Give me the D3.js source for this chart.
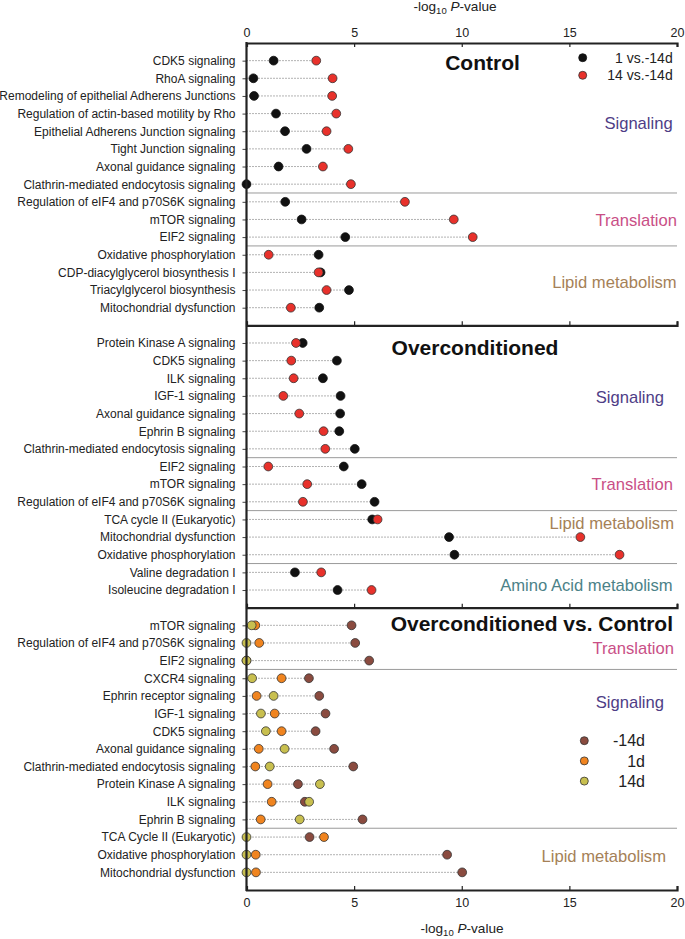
<html>

<head>
  <script src="https://d3js.org/d3.v7.min.js"></script>
  <style>
    body {
      margin: 0;
      background: white;
    }

    svg text {
      font-family: "Liberation Sans", Arial, sans-serif;
    }

    .rowAxis text {
      font-size: 12px;
      fill: #222;
    }

    .xAxis text {
      font-size: 12.5px;
      fill: #222;
    }

    .pTitle {
      font-weight: bold;
      font-size: 21px;
      fill: #111;
    }

    .catLabel {
      font-size: 16.6px;
    }
  </style>
</head>

<body>
  <svg id="vis" width="685" height="939"></svg>
  <script>
    const xTicks = [0, 5, 10, 15, 20];

    // Control
    const controlPathways = ["CDK5 signaling", "RhoA signaling", "Remodeling of epithelial Adherens Junctions",
      "Regulation of actin-based motility by Rho", "Epithelial Adherens Junction signaling", "Tight Junction signaling",
      "Axonal guidance signaling", "Clathrin-mediated endocytosis signaling", "Regulation of eIF4 and p70S6K signaling",
      "mTOR signaling", "EIF2 signaling", "Oxidative phosphorylation", "CDP-diacylglycerol biosynthesis I",
      "Triacylglycerol biosynthesis", "Mitochondrial dysfunction"];
    const controlDay1 = [1.26, 0.32, 0.35, 1.37, 1.79, 2.79, 1.49, 0, 1.8, 2.56, 4.59, 3.35, 3.44, 4.76, 3.38];
    const controlDay14 = [3.24, 4.0, 3.98, 4.17, 3.72, 4.73, 3.55, 4.85, 7.36, 9.63, 10.51, 1.03, 3.35, 3.72, 2.06];
    const controlGroups = ["Signaling", "Translation", "Lipid metabolism"];
    const controlBreaks = [8, 11];

    // Overconditioned
    const overPathways = ["Protein Kinase A signaling", "CDK5 signaling", "ILK signaling", "IGF-1 signaling",
      "Axonal guidance signaling", "Ephrin B signaling", "Clathrin-mediated endocytosis signaling", "EIF2 signaling",
      "mTOR signaling", "Regulation of eIF4 and p70S6K signaling", "TCA cycle II (Eukaryotic)",
      "Mitochondrial dysfunction", "Oxidative phosphorylation", "Valine degradation I", "Isoleucine degradation I"];
    const overDay1 = [2.61, 4.2, 3.55, 4.37, 4.35, 4.31, 5.03, 4.52, 5.35, 5.95, 5.84, 9.41, 9.66, 2.25, 4.23];
    const overDay14 = [2.3, 2.08, 2.19, 1.71, 2.45, 3.58, 3.66, 1.01, 2.82, 2.62, 6.09, 15.51, 17.33, 3.47, 5.81];
    const overGroups = ["Signaling", "Translation", "Lipid metabolism", "Amino Acid metabolism"];
    const overBreaks = [7, 10, 13];

    // Overconditioned vs. Control
    const ocPathways = ["mTOR signaling", "Regulation of eIF4 and p70S6K signaling", "EIF2 signaling",
      "CXCR4 signaling", "Ephrin receptor signaling", "IGF-1 signaling", "CDK5 signaling", "Axonal guidance signaling",
      "Clathrin-mediated endocytosis signaling", "Protein Kinase A signaling", "ILK signaling", "Ephrin B signaling",
      "TCA Cycle II (Eukaryotic)", "Oxidative phosphorylation", "Mitochondrial dysfunction"];
    const ocPre = [4.88, 5.05, 5.7, 2.9, 3.38, 3.67, 3.21, 4.07, 4.96, 2.39, 2.71, 5.39, 2.93, 9.32, 10.02];
    const ocDay1 = [0.41, 0.59, 0, 1.63, 0.47, 1.31, 1.63, 0.57, 0.41, 0.98, 1.17, 0.66, 3.6, 0.43, 0.44];
    const ocDay14 = [0.24, 0, 0, 0.26, 1.26, 0.67, 0.9, 1.77, 1.08, 3.41, 2.91, 2.47, 0, 0, 0];
    const ocGroups = ["Translation", "Signaling", "Lipid metabolism"];
    const ocBreaks = [3, 12];

    const groupColors = {
      "Signaling": "#4e3d86",
      "Translation": "#c94f86",
      "Lipid metabolism": "#a58157",
      "Amino Acid metabolism": "#4c8288"
    };

    let svg = d3.select("svg#vis");
    let left = 246.5, right = 677;
    let top0 = 43, bottom = 890;
    let panelH = (bottom - top0) / 3;

    let xScale = d3.scaleLinear([0, 20], [left, right]);

    // panel definitions built from the arrays above
    let panels = [
      {
        title: "Control", titleX: 482.5, titleAnchor: "middle", titleY: 70,
        labels: controlPathways,
        series: [{ name: "1 vs.-14d", values: controlDay1, color: "#111111", stroke: "#111111" },
        { name: "14 vs.-14d", values: controlDay14, color: "#e8312b", stroke: "#333" }],
        groups: controlGroups, breaks: controlBreaks,
        groupPos: [[4.52, 672.7], [10.03, 677], [13.58, 676.7]],
        legend: { x: 582.7, textX: 672.7, y: 57.7, step: 17.6, size: "14px", r: 4 }
      },
      {
        title: "Overconditioned", titleX: 475, titleAnchor: "middle", titleY: 355,
        labels: overPathways,
        series: [{ values: overDay1, color: "#111111", stroke: "#111111" },
        { values: overDay14, color: "#e8312b", stroke: "#333" }],
        groups: overGroups, breaks: overBreaks,
        groupPos: [[4.1, 664], [8.98, 673], [11.19, 674], [14.7, 672.7]]
      },
      {
        title: "Overconditioned vs. Control", titleX: 673, titleAnchor: "end", titleY: 631,
        labels: ocPathways,
        series: [{ name: "-14d", values: ocPre, color: "#8a4b3f", stroke: "#333" },
        { name: "1d", values: ocDay1, color: "#f0841f", stroke: "#333" },
        { name: "14d", values: ocDay14, color: "#c8bf4f", stroke: "#333" }],
        groups: ocGroups, breaks: ocBreaks,
        groupPos: [[2.32, 674], [5.37, 664], [14.1, 666]],
        legend: { x: 584.3, textX: 645, y: 740.7, step: 20.2, size: "16px", r: 4 }
      }
    ];

    panels.forEach((p, pi) => {
      let pTop = top0 + pi * panelH;
      let n = p.labels.length;
      let yScale = d3.scaleLinear([0, n + 1], [pTop, pTop + panelH]);
      let g = svg.append("g");

      // group separators
      p.breaks.forEach(b => {
        g.append("line")
          .attr("x1", left).attr("x2", right)
          .attr("y1", yScale(b + 0.5)).attr("y2", yScale(b + 0.5))
          .attr("stroke", "#9a9a9a").attr("stroke-width", 1);
      });

      // dotted leader lines
      p.labels.forEach((lab, i) => {
        let maxV = d3.max(p.series, s => s.values[i]);
        g.append("line")
          .attr("x1", xScale(0)).attr("x2", xScale(maxV))
          .attr("y1", yScale(i + 1)).attr("y2", yScale(i + 1))
          .attr("stroke", "#555").attr("stroke-width", 0.9)
          .attr("stroke-dasharray", "1,2");
      });

      // row axis
      let rowAxis = d3.axisLeft(yScale)
        .tickValues(d3.range(1, n + 1))
        .tickFormat(d => p.labels[d - 1])
        .tickSize(4)
        .tickPadding(7);
      g.append("g")
        .attr("class", "rowAxis")
        .attr("transform", `translate(${left},0)`)
        .call(rowAxis)
        .call(a => a.select(".domain").remove())
        .call(a => a.selectAll(".tick line").attr("stroke", "#444"));

      // points
      p.series.forEach(s => {
        g.selectAll(null).data(s.values)
          .join("circle")
          .attr("cx", d => xScale(d))
          .attr("cy", (d, i) => yScale(i + 1))
          .attr("r", 4.4)
          .attr("fill", s.color)
          .attr("stroke", s.stroke)
          .attr("stroke-width", 0.8);
      });

      // title
      g.append("text")
        .attr("class", "pTitle")
        .attr("x", p.titleX).attr("y", p.titleY)
        .style("text-anchor", p.titleAnchor)
        .text(p.title);

      // group labels
      p.groups.forEach((name, gi) => {
        g.append("text")
          .attr("class", "catLabel")
          .attr("x", p.groupPos[gi][1])
          .attr("y", yScale(p.groupPos[gi][0]))
          .attr("dy", "0.35em")
          .style("text-anchor", "end")
          .attr("fill", groupColors[name])
          .text(name);
      });

      // legend
      if (p.legend) {
        let L = p.legend;
        p.series.forEach((s, si) => {
          g.append("circle")
            .attr("cx", L.x).attr("cy", L.y + si * L.step)
            .attr("r", L.r)
            .attr("fill", s.color)
            .attr("stroke", s.stroke).attr("stroke-width", 0.8);
          g.append("text")
            .attr("x", L.textX).attr("y", L.y + si * L.step)
            .attr("dy", "0.35em")
            .style("text-anchor", "end")
            .style("font-size", L.size)
            .attr("fill", "#222")
            .text(s.name);
        });
      }

      // panel boundary axis with inward ticks
      let bAxis = d3.axisBottom(xScale).tickValues(xTicks).tickSize(-4)
        .tickFormat(pi === 2 ? d3.format("d") : "")
        .tickPadding(8);
      g.append("g")
        .attr("class", "xAxis")
        .attr("transform", `translate(0,${pTop + panelH})`)
        .call(bAxis)
        .call(a => a.select(".domain").attr("stroke", "#222").attr("stroke-width", 2.2))
        .call(a => a.selectAll(".tick line").attr("stroke", "#222").attr("stroke-width", 1.2));
    });

    // top axis
    let tAxis = d3.axisTop(xScale).tickValues(xTicks).tickSize(-4).tickPadding(6);
    svg.append("g")
      .attr("class", "xAxis")
      .attr("transform", `translate(0,${top0})`)
      .call(tAxis)
      .call(a => a.select(".domain").attr("stroke", "#222").attr("stroke-width", 2.2))
      .call(a => a.selectAll(".tick line").attr("stroke", "#222").attr("stroke-width", 1.2));

    // left axis line
    svg.append("line")
      .attr("x1", left).attr("x2", left)
      .attr("y1", top0 - 1).attr("y2", bottom + 1)
      .attr("stroke", "#222").attr("stroke-width", 2.2);

    // axis titles
    function axisTitle(x, y) {
      let t = svg.append("text")
        .attr("x", x).attr("y", y)
        .style("text-anchor", "middle")
        .style("font-size", "13.6px")
        .attr("fill", "#222");
      t.append("tspan").text("-log");
      t.append("tspan").attr("dy", 3).style("font-size", "9.5px").text("10");
      t.append("tspan").attr("dy", -3).text(" ");
      t.append("tspan").style("font-style", "italic").text("P");
      t.append("tspan").text("-value");
    }
    axisTitle(455, 11);
    axisTitle(462, 933);
  </script>
</body>

</html>
